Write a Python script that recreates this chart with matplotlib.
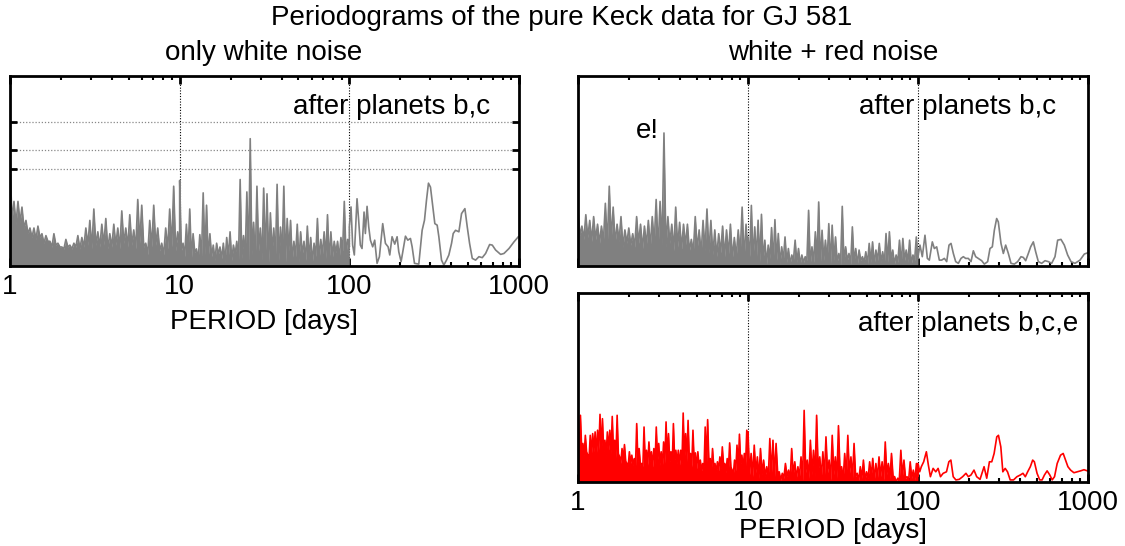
import numpy as np
import matplotlib
matplotlib.use("Agg")
import matplotlib.pyplot as plt
from matplotlib.ticker import FixedLocator, NullFormatter

plt.rcParams['font.family'] = ['Liberation Sans', 'DejaVu Sans']

# ---- data (power as fraction of the axis height) ----
# dense part: alternate local maxima / minima on an even log-period grid
left_d1_peak = [0.55, 0.34, 0.34, 0.31, 0.24, 0.20, 0.20, 0.21, 0.17, 0.16, 0.13, 0.17, 0.12, 0.10, 0.14,
                0.11, 0.12, 0.16, 0.15, 0.20, 0.24, 0.30, 0.18, 0.22, 0.25, 0.17, 0.22, 0.20, 0.29, 0.20,
                0.27, 0.19, 0.35, 0.32, 0.12, 0.24, 0.32, 0.20, 0.12, 0.20, 0.30, 0.42, 0.18]
left_d1_low = [0.24, 0.22, 0.23, 0.20, 0.17, 0.15, 0.14, 0.15, 0.12, 0.13, 0.10, 0.11, 0.10, 0.09, 0.10,
               0.09, 0.10, 0.09, 0.10, 0.11, 0.09, 0.11, 0.10, 0.11, 0.09, 0.10, 0.11, 0.09, 0.12, 0.10,
               0.11, 0.09, 0.12, 0.10, 0.06, 0.10, 0.11, 0.08, 0.06, 0.09, 0.10, 0.08, 0.09]
left_d2_peak = [0.45, 0.12, 0.22, 0.30, 0.17, 0.09, 0.165, 0.385, 0.32, 0.17, 0.11, 0.12, 0.10, 0.12, 0.15,
                0.18, 0.11, 0.13, 0.455, 0.16, 0.39, 0.67, 0.23, 0.42, 0.20, 0.41, 0.38, 0.28, 0.20, 0.43,
                0.205, 0.42, 0.25, 0.24, 0.13, 0.22, 0.18, 0.13, 0.21, 0.15, 0.12, 0.25, 0.14, 0.18, 0.27,
                0.18, 0.13, 0.13, 0.15, 0.34, 0.14]
left_d2_low = [0.08, 0.05, 0.06, 0.04, 0.07, 0.03, 0.05, 0.06, 0.04, 0.05, 0.03, 0.06, 0.04, 0.02, 0.05,
               0.03, 0.06, 0.02, 0.04, 0.05, 0.03, 0.06, 0.02, 0.08, 0.03, 0.05, 0.02, 0.07, 0.04, 0.03,
               0.06, 0.02, 0.08, 0.03, 0.05, 0.02, 0.06, 0.03, 0.04, 0.02, 0.05, 0.03, 0.06, 0.04, 0.02,
               0.05, 0.07, 0.04, 0.08, 0.06, 0.10]
left_d3_period = [100, 102.3, 104.6, 107.0, 111.0, 113.5, 116.1, 118.8, 122.1, 124.3, 127.2, 130.1, 133.1,
                  137.3, 141.1, 145.7, 150.4, 157.3, 163.2, 169.2, 173.1, 178.6, 185.2, 191.2, 195.6, 201.9,
                  207.5, 214.2, 221.1, 229.2, 234.5, 242.1, 256.7, 268.6, 277.3, 284.9, 292.7, 300.8, 310.5,
                  319.1, 329.4, 337.0, 349.4, 360.6, 373.9, 386.0, 400.3, 409.5, 422.7, 442.3, 458.6, 479.9,
                  495.4, 511.4, 530.3, 554.8, 580.5, 607.4, 635.6, 671.2, 695.9, 728.2, 779.4, 815.5, 872.9,
                  934.1, 991]
left_d3_power = [0.206, 0.311, 0.11, 0.058, 0.354, 0.241, 0.11, 0.092, 0.284, 0.171, 0.314, 0.206, 0.136,
                 0.101, 0.136, 0.014, 0.049, 0.223, 0.119, 0.101, 0.058, 0.154, 0.115, 0.154, 0.075, 0.023,
                 0.084, 0.157, 0.136, 0.145, 0.101, 0.014, 0.01, 0.188, 0.241, 0.346, 0.436, 0.415, 0.311,
                 0.223, 0.215, 0.154, 0.031, 0.005, 0.031, 0.058, 0.119, 0.171, 0.188, 0.18, 0.276, 0.302,
                 0.206, 0.119, 0.04, 0.031, 0.049, 0.044, 0.066, 0.113, 0.11, 0.084, 0.061, 0.066, 0.092,
                 0.127, 0.154]
fap_levels = [0.513, 0.613, 0.759]

red_d1_peak = [0.29, 0.21, 0.27, 0.24, 0.26, 0.22, 0.21, 0.33, 0.42, 0.31, 0.22, 0.26, 0.19, 0.20, 0.17,
               0.26, 0.22, 0.21, 0.24, 0.26, 0.35, 0.34, 0.70, 0.26, 0.22, 0.31, 0.23, 0.22, 0.22, 0.14,
               0.26, 0.19, 0.24, 0.30, 0.24, 0.19, 0.17, 0.21, 0.19, 0.22, 0.15, 0.19, 0.31, 0.22]
red_d1_low = [0.16, 0.14, 0.15, 0.13, 0.14, 0.12, 0.13, 0.11, 0.14, 0.12, 0.13, 0.10, 0.12, 0.11, 0.10,
              0.12, 0.09, 0.11, 0.10, 0.12, 0.09, 0.11, 0.10, 0.12, 0.08, 0.10, 0.09, 0.11, 0.08, 0.07,
              0.09, 0.06, 0.08, 0.07, 0.06, 0.05, 0.07, 0.05, 0.06, 0.04, 0.05, 0.06, 0.04, 0.05]
red_d2_peak = [0.153, 0.319, 0.206, 0.241, 0.272, 0.136, 0.11, 0.202, 0.244, 0.171, 0.101, 0.153, 0.092,
               0.058, 0.136, 0.092, 0.058, 0.049, 0.293, 0.101, 0.18, 0.337, 0.188, 0.136, 0.223, 0.215,
               0.153, 0.066, 0.314, 0.101, 0.066, 0.206, 0.092, 0.084, 0.049, 0.075, 0.119, 0.127, 0.084,
               0.119, 0.075, 0.171, 0.18, 0.084, 0.058, 0.136, 0.145, 0.084, 0.136, 0.058, 0.153]
red_d2_low = [0.05, 0.03, 0.04, 0.02, 0.03, 0.01, 0.04, 0.02, 0.03, 0.01, 0.03, 0.02, 0.01, 0.03, 0.02,
              0.01, 0.02, 0.03, 0.01, 0.02, 0.04, 0.01, 0.03, 0.02, 0.01, 0.03, 0.02, 0.01, 0.02, 0.03,
              0.01, 0.02, 0.01, 0.03, 0.02, 0.01, 0.02, 0.01, 0.03, 0.02, 0.01, 0.02, 0.03, 0.01, 0.02,
              0.01, 0.03, 0.02, 0.01, 0.03, 0.04]
red_d3_period = [100, 102.7, 106.0, 109.9, 113.5, 116.6, 121.4, 124.8, 128.8, 133.5, 137.8, 142.9, 147.5,
                 152.2, 156.4, 161.4, 166.6, 172.7, 179.0, 184.8, 190.7, 197.7, 205.0, 211.6, 218.4, 226.4,
                 236.9, 245.6, 256.9, 265.1, 273.7, 281.2, 290.2, 296.8, 307.7, 317.7, 327.9, 340.0, 352.5,
                 368.8, 385.8, 403.6, 416.5, 429.9, 445.7, 460.0, 476.9, 492.2, 510.3, 534.0, 558.6, 584.4,
                 611.3, 639.5, 663.0, 693.6, 725.6, 759.0, 794.3, 838.4, 897.4, 951.5, 1000]
red_d3_power = [0.049, 0.11, 0.049, 0.162, 0.04, 0.031, 0.127, 0.092, 0.101, 0.031, 0.031, 0.04, 0.023,
                0.11, 0.119, 0.066, 0.023, 0.014, 0.04, 0.049, 0.04, 0.04, 0.023, 0.08, 0.049, 0.04, 0.028,
                0.01, 0.023, 0.092, 0.101, 0.188, 0.25, 0.232, 0.119, 0.066, 0.11, 0.066, 0.014, 0.01,
                0.023, 0.049, 0.045, 0.028, 0.066, 0.101, 0.127, 0.075, 0.023, 0.014, 0.028, 0.023, 0.014,
                0.049, 0.136, 0.14, 0.11, 0.058, 0.023, 0.014, 0.031, 0.063, 0.07]

bce_d1_peak = [0.283, 0.353, 0.204, 0.247, 0.142, 0.247, 0.256, 0.265, 0.274, 0.358, 0.335, 0.221, 0.265,
               0.274, 0.347, 0.221, 0.353, 0.133, 0.177, 0.198, 0.098, 0.16, 0.142, 0.124, 0.309, 0.177,
               0.098, 0.291, 0.168, 0.212, 0.16, 0.177, 0.291, 0.204, 0.16, 0.212, 0.318, 0.256, 0.16,
               0.309, 0.168, 0.168, 0.168, 0.365, 0.256, 0.326, 0.151, 0.274, 0.154, 0.16, 0.116, 0.098,
               0.291, 0.33, 0.124, 0.177, 0.098, 0.107, 0.133, 0.186, 0.098, 0.124, 0.207, 0.063, 0.116,
               0.195, 0.253, 0.142, 0.151, 0.274]
bce_d1_low = [0.15, 0.17, 0.14, 0.16, 0.12, 0.15, 0.16, 0.14, 0.17, 0.15, 0.16, 0.14, 0.17, 0.15, 0.16,
              0.13, 0.15, 0.10, 0.12, 0.11, 0.08, 0.10, 0.09, 0.08, 0.11, 0.09, 0.07, 0.10, 0.09, 0.11,
              0.08, 0.10, 0.12, 0.09, 0.08, 0.10, 0.12, 0.11, 0.08, 0.12, 0.10, 0.09, 0.10, 0.13, 0.11,
              0.12, 0.08, 0.10, 0.07, 0.08, 0.06, 0.05, 0.09, 0.11, 0.06, 0.08, 0.05, 0.06, 0.07, 0.09,
              0.05, 0.07, 0.08, 0.04, 0.06, 0.08, 0.10, 0.07, 0.09, 0.10]
bce_d2_peak = [0.265, 0.151, 0.195, 0.133, 0.177, 0.116, 0.081, 0.23, 0.221, 0.204, 0.054, 0.046, 0.098,
               0.063, 0.177, 0.107, 0.081, 0.133, 0.379, 0.116, 0.221, 0.168, 0.353, 0.133, 0.16, 0.239,
               0.116, 0.247, 0.133, 0.298, 0.081, 0.151, 0.247, 0.133, 0.204, 0.046, 0.081, 0.116, 0.054,
               0.107, 0.125, 0.098, 0.133, 0.107, 0.212, 0.098, 0.151, 0.028, 0.02, 0.168, 0.116, 0.028,
               0.107, 0.063, 0.098]
bce_d2_low = [0.04, 0.03, 0.05, 0.02, 0.04, 0.03, 0.02, 0.04, 0.03, 0.05, 0.01, 0.02, 0.03, 0.01, 0.04,
              0.02, 0.03, 0.01, 0.05, 0.02, 0.04, 0.03, 0.06, 0.02, 0.03, 0.05, 0.01, 0.04, 0.02, 0.06,
              0.01, 0.03, 0.04, 0.02, 0.03, 0.01, 0.02, 0.01, 0.02, 0.03, 0.01, 0.02, 0.03, 0.01, 0.04,
              0.02, 0.03, 0.00, 0.01, 0.03, 0.02, 0.01, 0.02, 0.01, 0.03]
bce_d3_period = [100, 102.3, 104.6, 108.0, 112.0, 115.1, 118.3, 122.7, 127.2, 131.3, 135.6, 140.6, 147.1,
                 151.9, 156.1, 161.1, 167.1, 174.8, 183.0, 191.5, 197.6, 204.9, 213.5, 221.4, 231.7, 244.7,
                 253.7, 263.1, 271.6, 280.4, 290.7, 297.4, 307.0, 315.5, 325.7, 336.2, 348.6, 364.8, 381.8,
                 399.6, 414.4, 427.8, 441.6, 457.9, 472.7, 483.6, 501.5, 520.0, 537.0, 554.3, 574.8, 596.1,
                 615.5, 635.4, 658.8, 689.3, 714.6, 737.9, 761.7, 789.8, 826.5, 864.9, 905.0, 947.0, 991.1]
bce_d3_power = [0.098, 0.054, 0.081, 0.107, 0.16, 0.089, 0.028, 0.072, 0.054, 0.072, 0.028, 0.046, 0.054,
                0.107, 0.116, 0.028, 0.011, 0.014, 0.028, 0.046, 0.028, 0.037, 0.063, 0.028, 0.014, 0.081,
                0.02, 0.107, 0.107, 0.151, 0.239, 0.247, 0.186, 0.054, 0.072, 0.054, 0.011, 0.011, 0.028,
                0.037, 0.046, 0.028, 0.054, 0.081, 0.116, 0.107, 0.046, 0.011, 0.011, 0.037, 0.059, 0.037,
                0.011, 0.028, 0.098, 0.142, 0.151, 0.116, 0.081, 0.063, 0.049, 0.054, 0.059, 0.065, 0.059]

W, H = 1125, 546
FS = 20


def dense(peaks, lows, p0, p1):
    vals = []
    for a, b in zip(peaks, lows):
        vals += [a, b]
    return np.geomspace(p0, p1, len(vals)), np.array(vals)


def panel(rect, segs, color, note, note_x, grid_y=None, xlabel_pad=None):
    ax = fig.add_axes(rect)
    per1, pw1 = dense(*segs[0], 1, 10)
    per2, pw2 = dense(*segs[1], 10, 100)
    per3, pw3 = np.array(segs[2][0]), np.array(segs[2][1])
    per = np.concatenate([per1, per2, per3])
    pw = np.concatenate([pw1, pw2, pw3])
    ax.fill_between(np.concatenate([per1, per2]), 0, np.concatenate([pw1, pw2]),
                    color=color, lw=0, zorder=2)
    ax.plot(per, pw, color=color, lw=1.2, zorder=2)

    ax.set_xscale('log')
    ax.set_xlim(1, 1000)
    ax.set_ylim(0, 1)
    for p in [10, 100]:
        ax.axvline(p, color='black', lw=0.8, ls=(0, (1, 1.5)), zorder=1)
    if grid_y:
        for g in grid_y:
            ax.axhline(g, color='#888888', lw=0.9, ls=(0, (1, 1.5)), zorder=1)
        ax.set_yticks(grid_y)
        ax.tick_params(axis='y', which='major', direction='in', length=5, width=2,
                       left=True, right=True, labelleft=False)
    else:
        ax.set_yticks([])
    ax.xaxis.set_major_locator(FixedLocator([1, 10, 100, 1000]))
    ax.set_xticklabels(['1', '10', '100', '1000'])
    ax.xaxis.set_minor_locator(FixedLocator([m * 10 ** d for d in range(3) for m in range(2, 10)]))
    ax.xaxis.set_minor_formatter(NullFormatter())
    ax.tick_params(axis='x', which='major', direction='in', length=6, width=2,
                   top=True, bottom=True, labelsize=FS, pad=6)
    ax.tick_params(axis='x', which='minor', direction='in', length=3, width=1.5,
                   top=True, bottom=True)
    for s in ax.spines.values():
        s.set_linewidth(2)
        s.set_zorder(5)
    ax.text(note_x, 0.835, note, transform=ax.transAxes, ha='right', va='center',
            fontsize=FS, zorder=6)
    if xlabel_pad is not None:
        ax.set_xlabel('PERIOD [days]', fontsize=FS, labelpad=xlabel_pad)
    return ax


fig = plt.figure(figsize=(W / 100, H / 100), dpi=100)

panel([10 / W, 1 - 266 / H, 509 / W, 190 / H],
      [(left_d1_peak, left_d1_low), (left_d2_peak, left_d2_low), (left_d3_period, left_d3_power)],
      '#808080', 'after planets b,c', 0.943, grid_y=fap_levels, xlabel_pad=6)

ax_r = panel([578 / W, 1 - 266 / H, 510 / W, 190 / H],
             [(red_d1_peak, red_d1_low), (red_d2_peak, red_d2_low), (red_d3_period, red_d3_power)],
             '#808080', 'after planets b,c', 0.937)
ax_r.set_xticklabels([])
ax_r.text(3.0, 0.64, 'e!', ha='right', va='bottom', fontsize=FS)

panel([578 / W, 1 - 482 / H, 510 / W, 189 / H],
      [(bce_d1_peak, bce_d1_low), (bce_d2_peak, bce_d2_low), (bce_d3_period, bce_d3_power)],
      '#ff0000', 'after planets b,c,e', 0.98, xlabel_pad=1)

fig.text(562 / W, 1 - 18 / H, 'Periodograms of the pure Keck data for GJ 581',
         ha='center', va='center', fontsize=FS)
fig.text(264 / W, 1 - 53 / H, 'only white noise', ha='center', va='center', fontsize=FS)
fig.text(833 / W, 1 - 53 / H, 'white + red noise', ha='center', va='center', fontsize=FS)

fig.savefig('out.png', dpi=100)
